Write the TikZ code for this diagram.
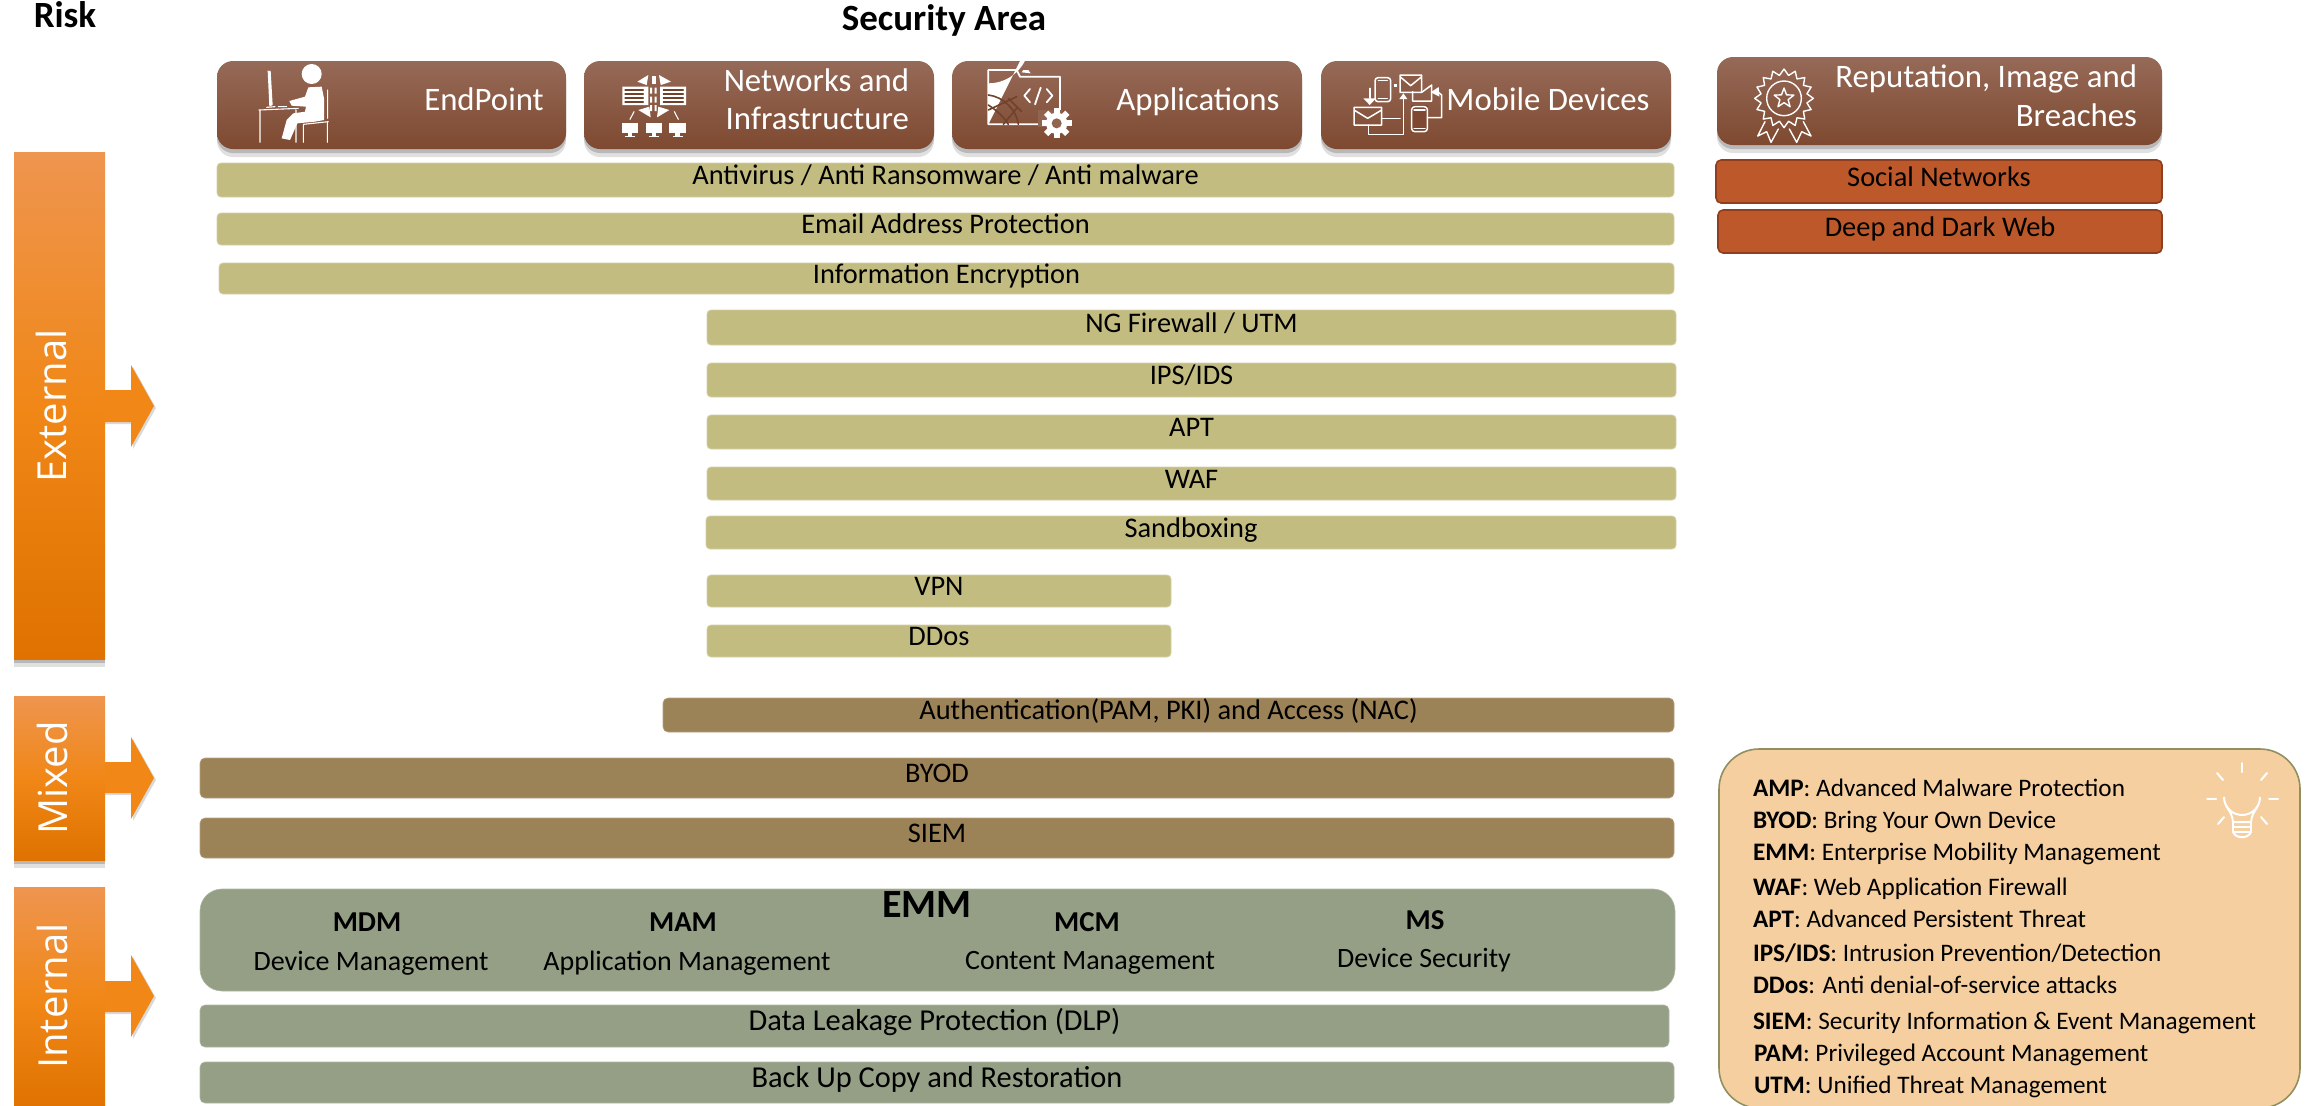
\documentclass[tikz,border=0pt]{standalone}
\usepackage{fontspec}
\setmainfont{Carlito}
\newfontfamily\riskfont{Open Sans}
\usetikzlibrary{shadows}
\definecolor{hdtop}{HTML}{966A58}
\definecolor{hdbot}{HTML}{7E4930}
\definecolor{olivebar}{HTML}{C2BC80}
\definecolor{tanbar}{HTML}{9C8257}
\definecolor{sagebar}{HTML}{949F86}
\definecolor{rust}{HTML}{BC582A}
\definecolor{rustedge}{HTML}{8F3F20}
\definecolor{ortop}{HTML}{EE954F}
\definecolor{ormid}{HTML}{F08717}
\definecolor{orbot}{HTML}{DF7200}
\definecolor{legendfill}{HTML}{F5CF9F}
\definecolor{legendedge}{HTML}{8F8F5F}
\tikzset{
  base/.style={inner sep=0pt,outer sep=0pt,align=center,text height=0.68em,text depth=0.2em},
  softshadow/.style={drop shadow={shadow xshift=0pt,shadow yshift=-2pt,opacity=.18,fill=black},
                     drop shadow={shadow xshift=0pt,shadow yshift=-4pt,opacity=.12,fill=black}},
  header/.style={base,rounded corners=8pt,top color=hdtop,bottom color=hdbot,softshadow},
  hdlabel/.style={inner sep=0pt,outer sep=0pt,text=white,font=\fontsize{16.4}{18}\selectfont,text height=0.68em,text depth=0.2em},
  barlabel/.style={base,font=\fontsize{14.2}{16}\selectfont},
  olivestyle/.style={barlabel,rounded corners=2pt,fill=olivebar,draw=olivebar!70!white,line width=.4pt},
  tanstyle/.style={barlabel,rounded corners=2.5pt,fill=tanbar,draw=tanbar!75!white,line width=.3pt},
  sagestyle/.style={barlabel,rounded corners=2.5pt,fill=sagebar,draw=sagebar!75!white,line width=.3pt},
  bigsage/.style={sagestyle,font=\fontsize{15.2}{17}\selectfont},
  ruststyle/.style={barlabel,rounded corners=2.5pt,fill=rust,draw=rustedge,line width=.8pt},
  riskbox/.style={base,top color=ortop,bottom color=orbot,middle color=ormid,softshadow},
  riskarrow/.style={fill=ormid,drop shadow={shadow xshift=1pt,shadow yshift=-1pt,opacity=.15,fill=black}},
  risklabel/.style={inner sep=0pt,outer sep=0pt,text=white,rotate=90,font=\riskfont\fontsize{20}{22}\selectfont,text height=0.7em,text depth=0em},
  titlelabel/.style={inner sep=0pt,outer sep=0pt,font=\bfseries\fontsize{18.5}{20}\selectfont,text height=0.68em,text depth=0.2em},
  subhead/.style={inner sep=0pt,outer sep=0pt,font=\bfseries\fontsize{14.4}{16}\selectfont,text height=0.68em,text depth=0.2em},
  subtext/.style={inner sep=0pt,outer sep=0pt,font=\fontsize{14}{16}\selectfont,text height=0.68em,text depth=0.2em},
  legendline/.style={anchor=base west,inner sep=0pt,outer sep=0pt,font=\fontsize{12.6}{14}\selectfont},
  icon/.style={x=0.16667pt,y=-0.16667pt,white,line width=.55pt,line join=round,line cap=round},
}
\newcommand{\rbox}[7]{%
  \pgfmathsetmacro\rw{(#5-#3)*0.5}\pgfmathsetmacro\rh{(#6-#4)*0.5}%
  \node[#2,minimum width=\rw pt,minimum height=\rh pt] (#1) at ({(#3+#5)/2},{(#4+#6)/2}) {#7};}
\begin{document}
\begin{tikzpicture}[x=0.5pt,y=-0.5pt]
\useasboundingbox (0,0) rectangle (2306,1105);
\clip (0,0) rectangle (2306,1105);

% titles
\node[titlelabel] (risktitle) at (65,23) {Risk};
\node[titlelabel] (sectitle) at (944,26) {Security Area};

% risk arrows and boxes
\fill[riskarrow] (100,390) -- (131,390) -- (131,365) -- (154,406) -- (131,447) -- (131,422) -- (100,422) -- cycle;
\fill[riskarrow] (100,762) -- (131,762) -- (131,737) -- (154,778) -- (131,819) -- (131,793) -- (100,793) -- cycle;
\fill[riskarrow] (100,981) -- (131,981) -- (131,955) -- (154,996) -- (131,1037) -- (131,1012) -- (100,1012) -- cycle;
\rbox{extbox}{riskbox}{14}{152}{105}{659}{}
\rbox{mixbox}{riskbox}{14}{696}{105}{860}{}
\rbox{intbox}{riskbox}{14}{887}{105}{1112}{}
\node[risklabel] (extlabel) at (59,406) {External};
\node[risklabel] (mixlabel) at (60,778) {Mixed};
\node[risklabel] (intlabel) at (60,996) {Internal};

% headers
\rbox{hend}{header}{217}{61}{566}{149}{}
\rbox{hnet}{header}{584}{61}{934}{149}{}
\rbox{happ}{header}{952}{61}{1302}{149}{}
\rbox{hmob}{header}{1321}{61}{1671}{149}{}
\rbox{hrep}{header}{1717}{57}{2162}{145}{}
\node[hdlabel] (lend) at (484,106) {EndPoint};
\node[hdlabel,anchor=east] (lnet1) at (909,87) {Networks and};
\node[hdlabel,anchor=east] (lnet2) at (909,125) {Infrastructure};
\node[hdlabel] (lapp) at (1198,106) {Applications};
\node[hdlabel] (lmob) at (1548,106) {Mobile Devices};
\node[hdlabel,anchor=east] (lrep1) at (2137,83) {Reputation, Image and};
\node[hdlabel,anchor=east] (lrep2) at (2137,122) {Breaches};

% icon: endpoint
\begin{scope}[shift={(240,55)},icon]
  \fill (215,57) circle (30);
  \fill (205,97) -- (245,95) -- (252,130) -- (252,195) -- (225,200) -- (172,205) -- (150,255) -- (125,250) -- (140,195) -- (160,175) -- (195,170) -- (198,155) -- (155,152) -- (148,138) -- (195,125) -- cycle;
  \draw (263,105) -- (263,190) (190,208) -- (265,200) (190,208) -- (190,262) (262,200) -- (262,262);
  \draw (57,165) -- (175,160) (60,165) -- (60,262) (168,165) -- (168,262);
  \fill (83,47) -- (92,48) -- (98,150) -- (88,155) -- cycle;
  \draw (80,157) -- (105,155) (115,155) -- (140,155);
\end{scope}

% icon: network
\begin{scope}[shift={(610,55)},icon]
  \fill (37,95) rectangle (115,150) (150,95) rectangle (228,150);
  \foreach \yy in {105,117,129,141}{
    \draw[hdbot!90!black] (45,\yy) -- (100,\yy) (160,\yy) -- (220,\yy);}
  \fill (82,80) -- (115,60) -- (110,90) -- cycle;
  \fill (183,80) -- (147,60) -- (152,90) -- cycle;
  \fill (125,62) rectangle (139,88);
  \foreach \yy in {98,125,150}{\fill (120,\yy) rectangle (126,\yy+18) (134,\yy) rectangle (140,\yy+18);}
  \fill (85,165) -- (118,155) -- (122,187) -- cycle;
  \fill (178,165) -- (145,155) -- (141,187) -- cycle;
  \draw (60,193) -- (72,170) (205,193) -- (193,170);
  \foreach \xx in {35,107,178}{
    \fill (\xx,203) rectangle (\xx+50,235);
    \fill (\xx+18,235) rectangle (\xx+32,243);
    \fill (\xx+10,243) rectangle (\xx+40,247);}
\end{scope}

% icon: applications
\begin{scope}[shift={(975,55)},icon]
  \draw[line width=.9pt] (190,208) -- (40,208) -- (40,45) -- (125,45) -- (135,65) -- (255,65) -- (255,165);
  \fill (140,52) -- (145,45) -- (160,45) -- (167,55) -- cycle;
  \fill (40,85) arc[start angle=90,end angle=0,radius=123] -- (40,208) -- cycle;
  \begin{scope}[hdbot!90!black,line width=.8pt]
    \draw (40,120) .. controls (85,125) and (125,165) .. (130,208);
    \draw (40,165) -- (125,125);
    \draw (85,208) -- (125,160) (140,170) -- (100,130);
    \draw (40,150) .. controls (70,170) and (85,185) .. (100,208);
  \end{scope}
  \draw[line width=.9pt] (165,102) -- (148,122) -- (165,142);
  \draw[line width=.9pt] (215,102) -- (232,122) -- (215,142);
  \draw[line width=.9pt] (197,98) -- (180,148);
  \fill[hdbot!85!white] (190,165) rectangle (262,215);
  \foreach \a in {0,45,90,135}{
    \fill[rotate around={\a:(245,205)}] (236,160) rectangle (254,250);}
  \fill (245,205) circle (32);
  \fill[hdbot!85!white] (245,205) circle (15);
\end{scope}

% icon: mobile devices
\begin{scope}[shift={(1340,55)},icon,line width=.75pt]
  \draw[rounded corners=1.5pt] (105,68) rectangle (152,140);
  \draw (115,76) -- (142,76) (115,130) -- (142,130);
  \fill[hdbot!90!white] (180,60) rectangle (245,112);
  \draw (180,60) rectangle (245,112) (180,65) -- (212,92) -- (245,65);
  \fill (163,88) rectangle (172,96);
  \draw (218,110) -- (218,138) -- (275,138) -- (275,90) -- (245,112);
  \draw (90,100) -- (90,130);
  \fill (70,130) -- (108,130) -- (89,150) -- cycle;
  \draw (42,157) rectangle (125,210) (42,165) -- (83,190) -- (125,165);
  \draw (125,190) -- (180,190) (85,210) -- (85,238) -- (190,238) -- (190,130);
  \fill (178,132) -- (202,132) -- (190,115) -- cycle;
  \fill[hdbot] (212,150) rectangle (265,235);
  \draw[rounded corners=1.5pt] (215,155) rectangle (262,230);
  \draw (222,165) -- (255,165) (222,220) -- (255,220);
  \draw (262,188) -- (305,188) -- (305,120) -- (290,108);
  \fill (272,112) -- (296,96) -- (298,125) -- cycle;
\end{scope}

% icon: reputation
\begin{scope}[shift={(1735,55)},icon,line width=.7pt]
  \draw plot[samples at={0,1,...,31}] ({147+(79+9*cos(\x*180))*cos(\x*11.25)},{130+(79+9*cos(\x*180))*sin(\x*11.25)}) -- cycle;
  \draw (147,130) circle (52);
  \draw plot[samples at={0,1,...,9}] ({147+(22+9*cos(\x*180))*cos(-90+\x*36)},{130+(22+9*cos(\x*180))*sin(-90+\x*36)}) -- cycle;
  \draw (90,200) -- (68,243) -- (95,230) -- (108,262) -- (130,222);
  \draw (205,200) -- (228,243) -- (200,230) -- (185,262) -- (163,222);
\end{scope}

% reputation bars
\rbox{bsocial}{ruststyle}{1716}{160}{2162}{203}{Social Networks}
\rbox{bdeep}{ruststyle}{1718}{210}{2162}{253}{Deep and Dark Web}

% olive bars
\rbox{bav}{olivestyle}{217}{163}{1674}{197}{Antivirus / Anti Ransomware / Anti malware}
\rbox{bemail}{olivestyle}{217}{213}{1674}{245}{Email Address Protection}
\rbox{binfo}{olivestyle}{219}{263}{1674}{294}{Information Encryption}
\rbox{bng}{olivestyle}{707}{310}{1676}{345}{NG Firewall / UTM}
\rbox{bips}{olivestyle}{707}{363}{1676}{397}{IPS/IDS}
\rbox{bapt}{olivestyle}{707}{415}{1676}{449}{APT}
\rbox{bwaf}{olivestyle}{707}{467}{1676}{500}{WAF}
\rbox{bsand}{olivestyle}{706}{516}{1676}{549}{Sandboxing}
\rbox{bvpn}{olivestyle}{707}{575}{1171}{607}{VPN}
\rbox{bddos}{olivestyle}{707}{625}{1171}{657}{DDos}

% tan bars
\rbox{bauth}{tanstyle}{663}{698}{1674}{732}{Authentication(PAM, PKI) and Access (NAC)}
\rbox{bbyod}{tanstyle}{200}{758}{1674}{798}{BYOD}
\rbox{bsiem}{tanstyle}{200}{818}{1674}{858}{SIEM}

% sage
\rbox{bemm}{sagestyle,rounded corners=11pt}{200}{889}{1675}{991}{}
\rbox{bdlp}{bigsage}{200}{1005}{1669}{1047}{Data Leakage Protection (DLP)}
\rbox{bback}{bigsage}{200}{1062}{1674}{1103}{Back Up Copy and Restoration}
\node[inner sep=0pt,outer sep=0pt,font=\bfseries\fontsize{20}{22}\selectfont,text height=0.68em,text depth=0.2em] (temm) at (927,913) {EMM};
\node[subhead] (tmdm) at (367,927) {MDM};
\node[subtext] (dmdm) at (371,966) {Device Management};
\node[subhead] (tmam) at (683,927) {MAM};
\node[subtext] (dmam) at (687,966) {Application Management};
\node[subhead] (tmcm) at (1087,927) {MCM};
\node[subtext] (dmcm) at (1090,965) {Content Management};
\node[subhead] (tms) at (1425,925) {MS};
\node[subtext] (dms) at (1424,963) {Device Security};

% legend
\path[fill=legendfill,draw=legendedge,line width=.8pt,rounded corners=20pt] (1719,749) rectangle (2300,1108);
\node[legendline] (l1) at (1753,796) {\textbf{AMP}: Advanced Malware Protection};
\node[legendline] (l2) at (1753,828) {\textbf{BYOD}: Bring Your Own Device};
\node[legendline] (l3) at (1753,860) {\textbf{EMM}: Enterprise Mobility Management};
\node[legendline] (l4) at (1753,895) {\textbf{WAF}: Web Application Firewall};
\node[legendline] (l5) at (1753,927) {\textbf{APT}: Advanced Persistent Threat};
\node[legendline] (l6) at (1753,961) {\textbf{IPS/IDS}: Intrusion Prevention/Detection};
\node[legendline] (l7) at (1753,993) {\textbf{DDos}: Anti denial-of-service attacks};
\node[legendline] (l8) at (1753,1029) {\textbf{SIEM}: Security Information \& Event Management};
\node[legendline] (l9) at (1754,1061) {\textbf{PAM}: Privileged Account Management};
\node[legendline] (l10) at (1754,1093) {\textbf{UTM}: Unified Threat Management};

% bulb
\begin{scope}[white,line width=1pt,line cap=round]
  \draw (2242,763) -- (2242,772) (2207,799) -- (2216,799) (2269,799) -- (2278,799);
  \draw (2217,773) -- (2223,780) (2261,780) -- (2267,773) (2218,824) -- (2224,817) (2261,817) -- (2267,824);
  \draw (2233,822) .. controls (2232,810) and (2224,808) .. (2224,797) arc[start angle=180,end angle=0,radius=18] .. controls (2260,808) and (2252,810) .. (2251,822) -- cycle;
  \draw (2233,822) -- (2233,832) (2251,822) -- (2251,832) (2233,827) -- (2251,827) (2233,832) -- (2251,832);
  \draw (2233,832) .. controls (2236,839) and (2248,839) .. (2251,832);
\end{scope}
\end{tikzpicture}
\end{document}
